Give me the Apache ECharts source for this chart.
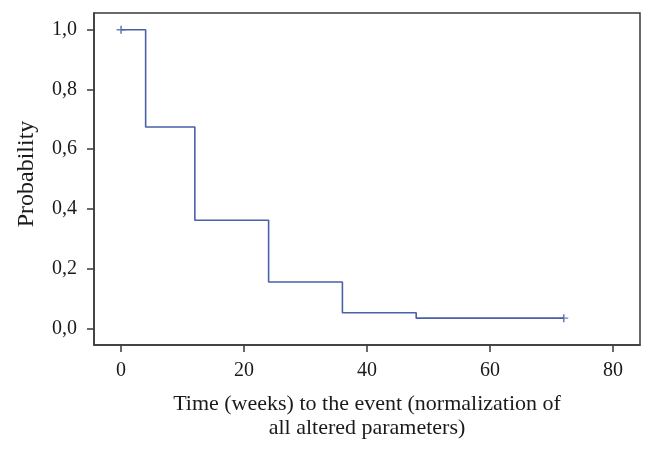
<!DOCTYPE html>
<html>
<head>
<meta charset="utf-8">
<script src="https://cdn.jsdelivr.net/npm/echarts@6/dist/echarts.min.js"></script>
<style>
html,body{margin:0;padding:0;background:#fff;}
#chart{width:652px;height:451px;}
</style>
</head>
<body>
<div id="chart"></div>
<script>
// Kaplan-Meier step points: time (weeks), survival probability
var times = [0, 4, 12, 24, 36, 48, 72];
var probs = [1.0, 0.674, 0.362, 0.155, 0.052, 0.034, 0.034];
// censored observations
var censorTimes = [0, 72];
var censorProbs = [1.0, 0.034];
var xTicks = [0, 20, 40, 60, 80];
var yTicks = [0, 0.2, 0.4, 0.6, 0.8, 1.0];
var xTitle = 'Time (weeks) to the event (normalization of\nall altered parameters)';
var yTitle = 'Probability';

var font = '"Liberation Serif", "DejaVu Serif", serif';
var axisColor = '#3a3a3a';
var textColor = '#1a1a1a';
var lineColor = '#4a60aa';

var chart = echarts.init(document.getElementById('chart'));
var plus = 'path://M-0.18,-1H0.18V1H-0.18Z M-1,-0.18H1V0.18H-1Z';

chart.setOption({
  animation: false,
  grid: {left: 94, right: 12, top: 13, bottom: 106, containLabel: false},
  xAxis: {
    type: 'value',
    min: -4.4, max: 84.4,
    name: xTitle,
    nameLocation: 'middle',
    nameGap: 47,
    nameTextStyle: {fontFamily: font, fontSize: 22, color: textColor, lineHeight: 24, verticalAlign: 'top'},
    axisLine: {show: true, onZero: false, lineStyle: {color: axisColor, width: 1.5}},
    axisTick: {show: true, customValues: xTicks, length: 7, lineStyle: {color: axisColor, width: 1.5}},
    axisLabel: {customValues: xTicks, fontFamily: font, fontSize: 20, color: textColor, margin: 16,
      formatter: function(v){ return String(v); }},
    splitLine: {show: false}
  },
  yAxis: {
    type: 'value',
    min: -0.056, max: 1.056,
    name: yTitle,
    nameLocation: 'middle',
    nameGap: 55,
    nameTextStyle: {fontFamily: font, fontSize: 24, color: textColor, padding: [0, 0, 0, 10]},
    axisLine: {show: true, onZero: false, lineStyle: {color: axisColor, width: 1.5}},
    axisTick: {show: true, customValues: yTicks, length: 7, lineStyle: {color: axisColor, width: 1.5}},
    axisLabel: {customValues: yTicks, fontFamily: font, fontSize: 20, color: textColor, margin: 17,
      formatter: function(v){ return v.toFixed(1).replace('.', ','); }},
    splitLine: {show: false}
  },
  series: [
    {
      type: 'line',
      step: 'end',
      data: times.map(function(t, i){ return [t, probs[i]]; }),
      showSymbol: false,
      symbol: 'none',
      lineStyle: {color: lineColor, width: 1.6},
      silent: true
    },
    {
      type: 'scatter',
      data: censorTimes.map(function(t, i){ return [t, censorProbs[i]]; }),
      symbol: plus,
      symbolSize: [9, 8],
      itemStyle: {color: lineColor},
      silent: true
    }
  ],
  graphic: [{
    type: 'rect',
    shape: {x: 94, y: 13, width: 546, height: 332},
    style: {fill: 'none', stroke: axisColor, lineWidth: 1.5},
    silent: true
  }]
});
</script>
</body>
</html>
